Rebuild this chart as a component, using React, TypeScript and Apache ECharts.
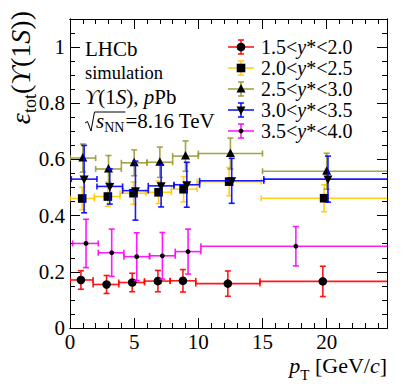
import React, { useEffect, useRef } from "react";
import * as echarts from "echarts";

const FONT_CSS = '"Liberation Serif", "Times New Roman", serif';

// ---- data ----
const legendLabels = ["1.5<y*<2.0", "2.0<y*<2.5", "2.5<y*<3.0", "3.0<y*<3.5", "3.5<y*<4.0"];
const seriesColors = ["#ff0000", "#ffcc00", "#999933", "#0000ff", "#ff00ff"];
const seriesMarkers = ["circle", "square", "triUp", "triDown", "dot"];

// 1.5<y*<2.0
const y15Pt = [0.85, 2.85, 4.85, 6.85, 8.8, 12.3, 19.7];
const y15Lo = [0, 1.8, 3.8, 5.8, 7.8, 9.8, 14.8];
const y15Hi = [1.8, 3.8, 5.8, 7.8, 9.8, 14.8, 24.8];
const y15Eff = [0.171, 0.155, 0.162, 0.167, 0.168, 0.158, 0.166];
const y15Err = [0.033, 0.032, 0.033, 0.038, 0.04, 0.045, 0.054];

// 2.0<y*<2.5
const y20Pt = [0.95, 2.95, 4.95, 6.9, 8.85, 12.4, 19.8];
const y20Lo = [0, 1.9, 3.9, 5.9, 7.9, 9.9, 14.9];
const y20Hi = [1.9, 3.9, 5.9, 7.9, 9.9, 14.9, 24.9];
const y20Eff = [0.461, 0.468, 0.48, 0.483, 0.494, 0.521, 0.462];
const y20Err = [0.04, 0.035, 0.04, 0.04, 0.045, 0.05, 0.048];

// 2.5<y*<3.0
const y25Pt = [1.0, 3.0, 5.0, 7.0, 9.0, 12.5, 20.0];
const y25Lo = [0, 2, 4, 6, 8, 10, 15];
const y25Hi = [2, 4, 6, 8, 10, 15, 25];
const y25Eff = [0.605, 0.566, 0.588, 0.59, 0.612, 0.621, 0.558];
const y25Err = [0.05, 0.048, 0.046, 0.054, 0.054, 0.055, 0.064];

// 3.0<y*<3.5
const y30Pt = [1.1, 3.1, 5.1, 7.1, 9.1, 12.6, 20.1];
const y30Lo = [0.1, 2.1, 4.1, 6.1, 8.1, 10.1, 15.1];
const y30Hi = [2.1, 4.1, 6.1, 8.1, 10.1, 15.1, 25.1];
const y30Eff = [0.53, 0.504, 0.489, 0.506, 0.51, 0.524, 0.53];
const y30Err = [0.12, 0.063, 0.105, 0.075, 0.08, 0.08, 0.082];

// 3.5<y*<4.0
const y35Pt = [1.25, 3.25, 5.2, 7.2, 9.2, 17.6];
const y35Lo = [0.2, 2.2, 4.2, 6.2, 8.2, 10.2];
const y35Hi = [2.2, 4.2, 6.2, 8.2, 10.2, 25.2];
const y35Eff = [0.301, 0.268, 0.254, 0.257, 0.272, 0.291];
const y35Err = [0.086, 0.084, 0.085, 0.083, 0.08, 0.07];

const X_MIN = 0;
const X_MAX = 24.7;
const Y_MIN = 0;
const Y_MAX = 1.1;

const allSeries = [
  { pt: y15Pt, lo: y15Lo, hi: y15Hi, eff: y15Eff, err: y15Err },
  { pt: y20Pt, lo: y20Lo, hi: y20Hi, eff: y20Eff, err: y20Err },
  { pt: y25Pt, lo: y25Lo, hi: y25Hi, eff: y25Eff, err: y25Err },
  { pt: y30Pt, lo: y30Lo, hi: y30Hi, eff: y30Eff, err: y30Err },
  { pt: y35Pt, lo: y35Lo, hi: y35Hi, eff: y35Eff, err: y35Err },
];

// ---- helpers ----
let measureCtx: CanvasRenderingContext2D | null = null;
function measure(t: string, size: number, italic: boolean) {
  if (!measureCtx) measureCtx = document.createElement("canvas").getContext("2d");
  measureCtx!.font = `${italic ? "italic " : ""}${size}px ${FONT_CSS}`;
  return measureCtx!.measureText(t).width;
}

type Run = { t: string; s: number; i?: boolean; dy?: number };

function runsWidth(runs: Run[]) {
  return runs.reduce((a, r) => a + measure(r.t, r.s, !!r.i), 0);
}

function makeRuns(runs: Run[], x: number, baseline: number) {
  const els: any[] = [];
  let cx = x;
  for (const r of runs) {
    const b = baseline + (r.dy || 0);
    els.push({
      type: "text",
      x: cx,
      y: b - 0.34 * r.s,
      style: {
        text: r.t,
        fontSize: r.s,
        fontFamily: FONT_CSS,
        fontStyle: r.i ? "italic" : "normal",
        fill: "#000",
        align: "left",
        verticalAlign: "middle",
        textAlign: "left",
        textVerticalAlign: "middle",
      },
    });
    cx += measure(r.t, r.s, !!r.i);
  }
  return { els, end: cx };
}

function markerEl(kind: string, cx: number, cy: number) {
  const style = { fill: "#000" };
  switch (kind) {
    case "circle":
      return { type: "circle", shape: { cx, cy, r: 4.3 }, style };
    case "square":
      return { type: "rect", shape: { x: cx - 4.3, y: cy - 4.3, width: 8.6, height: 8.6 }, style };
    case "triUp":
      return { type: "polygon", shape: { points: [[cx, cy - 5], [cx - 4.5, cy + 3.5], [cx + 4.5, cy + 3.5]] }, style };
    case "triDown":
      return { type: "polygon", shape: { points: [[cx, cy + 5], [cx - 4.5, cy - 3.5], [cx + 4.5, cy - 3.5]] }, style };
    default:
      return { type: "circle", shape: { cx, cy, r: 2.4 }, style };
  }
}

function lineEl(x1: number, y1: number, x2: number, y2: number, color: string) {
  return { type: "line", shape: { x1, y1, x2, y2 }, style: { stroke: color, lineWidth: 1.6, opacity: 0.9 } };
}

function labelRuns(label: string, size: number): Run[] {
  const k = label.indexOf("y");
  return [
    { t: label.slice(0, k), s: size },
    { t: "y", s: size, i: true },
    { t: label.slice(k + 1), s: size },
  ];
}

export default function App() {
  const ref = useRef<HTMLDivElement>(null);

  useEffect(() => {
    if (!ref.current) return;
    const chart = echarts.init(ref.current, null, { renderer: "svg" });

    const axisLine = { show: true, onZero: false, lineStyle: { color: "#000", width: 1 } };
    const tickStyle = { color: "#000", width: 1 };
    const xBase = { type: "value", min: X_MIN, max: X_MAX, splitLine: { show: false }, axisLine };
    const yBase = { type: "value", min: Y_MIN, max: Y_MAX, splitLine: { show: false }, axisLine };
    const noLabel = { show: false };

    const series = allSeries.map((d, si) => {
      const color = seriesColors[si];
      const kind = seriesMarkers[si];
      return {
        type: "custom",
        name: legendLabels[si],
        xAxisIndex: 0,
        yAxisIndex: 0,
        clip: true,
        data: d.pt.map((x, i) => [x, d.eff[i], d.lo[i], d.hi[i], d.err[i]]),
        encode: { x: 0, y: 1 },
        renderItem: (params: any, api: any) => {
          const x = api.value(0);
          const y = api.value(1);
          const lo = api.value(2);
          const hi = api.value(3);
          const e = api.value(4);
          const c = api.coord([x, y]);
          const l = api.coord([lo, y]);
          const h = api.coord([hi, y]);
          const t = api.coord([x, y + e]);
          const b = api.coord([x, y - e]);
          const cap = 3;
          return {
            type: "group",
            children: [
              lineEl(l[0], c[1], h[0], c[1], color),
              lineEl(l[0], c[1] - cap, l[0], c[1] + cap, color),
              lineEl(h[0], c[1] - cap, h[0], c[1] + cap, color),
              lineEl(c[0], t[1], c[0], b[1], color),
              lineEl(c[0] - cap, t[1], c[0] + cap, t[1], color),
              lineEl(c[0] - cap, b[1], c[0] + cap, b[1], color),
              markerEl(kind, c[0], c[1]),
            ],
          };
        },
      };
    });

    // ---- text graphics ----
    const graphics: any[] = [];
    const tx = 85;
    graphics.push(...makeRuns([{ t: "LHCb", s: 21 }], tx, 56).els);
    graphics.push(...makeRuns([{ t: "simulation", s: 18.5 }], tx, 79).els);
    graphics.push(
      ...makeRuns(
        [
          { t: "ϒ", s: 21, i: true },
          { t: "(1", s: 21 },
          { t: "S", s: 21, i: true },
          { t: "), ", s: 21 },
          { t: "p", s: 21, i: true },
          { t: "Pb", s: 21 },
        ],
        tx,
        104
      ).els
    );
    // sqrt(s_NN) = 8.16 TeV
    {
      const base = 128;
      const sx = tx + 11;
      const r1 = makeRuns([{ t: "s", s: 21, i: true }, { t: "NN", s: 14, dy: 4 }], sx, base);
      const r2 = makeRuns([{ t: "=8.16 TeV", s: 21 }], r1.end + 1, base);
      graphics.push(...r1.els, ...r2.els);
      graphics.push({
        type: "polyline",
        shape: {
          points: [
            [tx, base - 5],
            [tx + 2.5, base - 6.5],
            [tx + 6, base + 3],
            [tx + 9.5, base - 16],
            [r1.end + 1, base - 16],
          ],
        },
        style: { stroke: "#000", lineWidth: 1, fill: "none" },
      });
    }

    // legend
    legendLabels.forEach((lab, i) => {
      const cy = 47 + i * 21;
      const color = seriesColors[i];
      graphics.push(lineEl(228, cy, 254, cy, color));
      graphics.push(lineEl(241, cy - 7, 241, cy + 7, color));
      graphics.push(lineEl(238, cy - 7, 244, cy - 7, color));
      graphics.push(lineEl(238, cy + 7, 244, cy + 7, color));
      graphics.push(markerEl(seriesMarkers[i], 241, cy));
      graphics.push(...makeRuns(labelRuns(lab, 20), 261, cy + 6.8).els);
    });

    // x-axis title (right aligned at frame edge)
    {
      const runs: Run[] = [
        { t: "p", s: 22, i: true },
        { t: "T", s: 15, dy: 7 },
        { t: " [GeV/", s: 22 },
        { t: "c", s: 22, i: true },
        { t: "]", s: 22 },
      ];
      const w = runsWidth(runs);
      graphics.push(...makeRuns(runs, 387 - w, 373).els);
    }

    // y-axis title (rotated)
    {
      const runs: Run[] = [
        { t: "ε", s: 28, i: true },
        { t: "tot", s: 18, dy: 6 },
        { t: "(", s: 28 },
        { t: "ϒ", s: 28, i: true },
        { t: "(1", s: 28 },
        { t: "S", s: 28, i: true },
        { t: "))", s: 28 },
      ];
      const w = runsWidth(runs);
      graphics.push({
        type: "group",
        x: 30,
        y: 11 + w,
        rotation: Math.PI / 2,
        children: makeRuns(runs, 0, 0).els,
      });
    }

    const labelStyle = { show: true, fontSize: 21, fontFamily: FONT_CSS, color: "#000", showMaxLabel: false };

    chart.setOption({
      animation: false,
      backgroundColor: "#fff",
      grid: { left: 70, top: 19, right: 20, bottom: 63 },
      xAxis: [
        {
          ...xBase,
          position: "bottom",
          interval: 5,
          axisTick: { show: true, inside: true, length: 10, lineStyle: tickStyle },
          axisLabel: { ...labelStyle, margin: 3 },
        },
        { ...xBase, position: "bottom", interval: 1, axisTick: { show: true, inside: true, length: 5, lineStyle: tickStyle }, axisLabel: noLabel },
        { ...xBase, position: "top", interval: 5, axisTick: { show: true, inside: true, length: 10, lineStyle: tickStyle }, axisLabel: noLabel },
        { ...xBase, position: "top", interval: 1, axisTick: { show: true, inside: true, length: 5, lineStyle: tickStyle }, axisLabel: noLabel },
      ],
      yAxis: [
        {
          ...yBase,
          position: "left",
          interval: 0.2,
          axisTick: { show: true, inside: true, length: 10, lineStyle: tickStyle },
          axisLabel: { ...labelStyle, margin: 5 },
        },
        { ...yBase, position: "left", interval: 0.05, axisTick: { show: true, inside: true, length: 5, lineStyle: tickStyle }, axisLabel: noLabel },
        { ...yBase, position: "right", interval: 0.2, axisTick: { show: true, inside: true, length: 10, lineStyle: tickStyle }, axisLabel: noLabel },
        { ...yBase, position: "right", interval: 0.05, axisTick: { show: true, inside: true, length: 5, lineStyle: tickStyle }, axisLabel: noLabel },
      ],
      series,
      graphic: { elements: graphics },
    } as any);

    return () => chart.dispose();
  }, []);

  return <div ref={ref} style={{ position: "absolute", left: 0, top: 0, width: 407, height: 391 }} />;
}
